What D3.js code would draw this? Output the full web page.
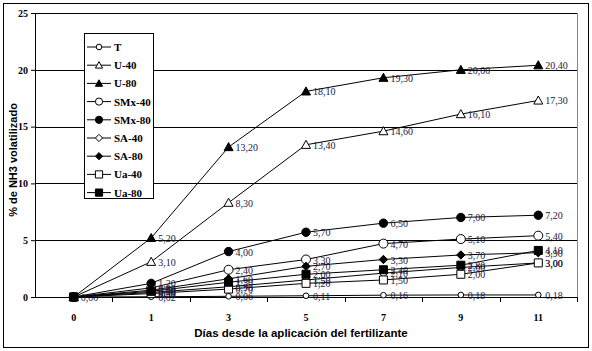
<!DOCTYPE html>
<html>
<head>
<meta charset="utf-8">
<script src="https://cdn.jsdelivr.net/npm/d3@7"></script>
<style>
  body { margin: 0; background: #fff; }
  svg { display: block; }
</style>
</head>
<body>
<div id="chart"></div>
<script>
// days after fertilizer application (categorical axis)
const days = ["0", "1", "3", "5", "7", "9", "11"];
const yTicks = [0, 5, 10, 15, 20, 25];

// % NH3 volatilized per treatment
const T      = [0, 0.02, 0.06, 0.11, 0.16, 0.18, 0.18];
const U40    = [0, 3.10, 8.30, 13.40, 14.60, 16.10, 17.30];
const U80    = [0, 5.20, 13.20, 18.10, 19.30, 20.00, 20.40];
const SMx40  = [0, 0.80, 2.40, 3.30, 4.70, 5.10, 5.40];
const SMx80  = [0, 1.20, 4.00, 5.70, 6.50, 7.00, 7.20];
const SA40   = [0, 0.40, 0.90, 1.50, 2.10, 2.60, 3.00];
const SA80   = [0, 0.60, 1.60, 2.70, 3.30, 3.70, 3.90];
const Ua40   = [0, 0.30, 0.70, 1.20, 1.50, 2.00, 3.00];
const Ua80   = [0, 0.50, 1.30, 2.00, 2.40, 2.80, 4.10];

const series = [
  {name: "T",      values: T,     shape: "circle",   size: 2.8, fill: false},
  {name: "U-40",   values: U40,   shape: "triangle", size: 4.5, fill: false},
  {name: "U-80",   values: U80,   shape: "triangle", size: 4.5, fill: true},
  {name: "SMx-40", values: SMx40, shape: "circle",   size: 4.5, fill: false},
  {name: "SMx-80", values: SMx80, shape: "circle",   size: 4.2, fill: true},
  {name: "SA-40",  values: SA40,  shape: "diamond",  size: 4.2, fill: false},
  {name: "SA-80",  values: SA80,  shape: "diamond",  size: 4.2, fill: true},
  {name: "Ua-40",  values: Ua40,  shape: "square",   size: 4.0, fill: false},
  {name: "Ua-80",  values: Ua80,  shape: "square",   size: 4.0, fill: true}
];

const W = 592, H = 351;
const margin = {top: 13, right: 15, bottom: 54, left: 35};
const width = W - margin.left - margin.right;
const height = H - margin.top - margin.bottom;

const svg = d3.select("#chart").append("svg")
  .attr("width", W).attr("height", H);

// outer frame
svg.append("rect")
  .attr("x", 3.5).attr("y", 3.5)
  .attr("width", W - 7).attr("height", H - 7)
  .attr("fill", "none").attr("stroke", "#000").attr("stroke-width", 1);

const g = svg.append("g")
  .attr("transform", `translate(${margin.left},${margin.top})`);

const x = d3.scaleBand().domain(days).range([0, width]).padding(0);
const y = d3.scaleLinear().domain([0, 25]).range([height, 0]);
const cx = d => x(d) + x.bandwidth() / 2;

// plot border (right side gray)
g.append("line")
  .attr("x1", width + 0.5).attr("x2", width + 0.5)
  .attr("y1", y(25)).attr("y2", y(0))
  .attr("stroke", "#888");

// horizontal grid
g.selectAll(".grid").data(yTicks.filter(d => d > 0)).enter()
  .append("line")
  .attr("x1", 0).attr("x2", width)
  .attr("y1", d => Math.round(y(d)) + 0.5).attr("y2", d => Math.round(y(d)) + 0.5)
  .attr("stroke", "#000").attr("stroke-width", 1);

// y axis
const yAxis = d3.axisLeft(y).tickValues(yTicks).tickSize(4).tickPadding(3);
g.append("g").attr("class", "y-axis").call(yAxis)
  .call(a => a.select(".domain").attr("stroke", "#000"))
  .selectAll("text")
  .attr("font-family", "Liberation Serif, Times New Roman, serif")
  .attr("font-size", 10).attr("font-weight", "bold").attr("fill", "#000");

// x axis baseline
const xAxisG = g.append("g").attr("class", "x-axis")
  .attr("transform", `translate(0,${height})`);
xAxisG.append("line")
  .attr("x1", 0).attr("x2", width).attr("y1", 0.5).attr("y2", 0.5)
  .attr("stroke", "#000");
// tick marks at category boundaries
xAxisG.selectAll(".tk").data(days).enter().append("line")
  .attr("x1", d => Math.round(x(d) + x.bandwidth()) + 0.5)
  .attr("x2", d => Math.round(x(d) + x.bandwidth()) + 0.5)
  .attr("y1", 0).attr("y2", 5)
  .attr("stroke", "#000");
xAxisG.selectAll(".lbl").data(days).enter().append("text")
  .attr("x", d => cx(d)).attr("y", 24)
  .attr("text-anchor", "middle")
  .attr("font-family", "Liberation Serif, Times New Roman, serif")
  .attr("font-size", 10).attr("font-weight", "bold")
  .text(d => d);

// axis titles
svg.append("text")
  .attr("x", margin.left + width / 2 - 5).attr("y", 337)
  .attr("text-anchor", "middle")
  .attr("font-family", "Liberation Sans, Arial, sans-serif")
  .attr("font-size", 11.5).attr("font-weight", "bold")
  .text("Días desde la aplicación del fertilizante");

svg.append("text")
  .attr("transform", `translate(17,${margin.top + height / 2 + 5}) rotate(-90)`)
  .attr("text-anchor", "middle")
  .attr("font-family", "Liberation Sans, Arial, sans-serif")
  .attr("font-size", 11).attr("font-weight", "bold")
  .text("% de NH3 volatilizado");

// symbol drawing helper
function drawMarker(sel, s) {
  const r = s.size;
  let path;
  if (s.shape === "circle") {
    sel.append("circle").attr("r", r)
      .attr("fill", s.fill ? "#000" : "#fff").attr("stroke", "#000").attr("stroke-width", 1);
    return;
  }
  if (s.shape === "triangle") path = `M0,${-r}L${r},${r * 0.8}L${-r},${r * 0.8}Z`;
  if (s.shape === "diamond") path = `M0,${-r}L${r},0L0,${r}L${-r},0Z`;
  if (s.shape === "square") path = `M${-r},${-r}H${r}V${r}H${-r}Z`;
  sel.append("path").attr("d", path)
    .attr("fill", s.fill ? "#000" : "#fff").attr("stroke", "#000").attr("stroke-width", 1);
}

const line = d3.line()
  .x((d, i) => cx(days[i]))
  .y(d => y(d));

// lines
series.forEach(s => {
  g.append("path").datum(s.values)
    .attr("d", line)
    .attr("fill", "none").attr("stroke", "#000").attr("stroke-width", 1);
});

// markers and labels
series.forEach(s => {
  const pts = g.append("g").selectAll("g").data(s.values).enter().append("g")
    .attr("transform", (d, i) => `translate(${cx(days[i])},${y(d)})`);
  pts.each(function () { drawMarker(d3.select(this), s); });
  pts.filter((d, i) => i > 0).append("text")
    .attr("x", 7).attr("y", 4)
    .attr("font-family", "Liberation Serif, Times New Roman, serif")
    .attr("font-size", 10).attr("fill", "#1a1a3a")
    .text(d => d.toFixed(2).replace(".", ","));
});

// "0,00" label at origin
g.append("text")
  .attr("x", cx(days[0]) + 7).attr("y", y(0) + 4)
  .attr("font-family", "Liberation Serif, Times New Roman, serif")
  .attr("font-size", 10).attr("fill", "#1a1a3a")
  .text("0,00");

// legend
const legend = svg.append("g").attr("transform", "translate(84,33)");
legend.append("rect")
  .attr("x", 0.5).attr("y", 0.5).attr("width", 69).attr("height", 165)
  .attr("fill", "#fff").attr("stroke", "#000");
const rows = legend.selectAll(".row").data(series).enter().append("g")
  .attr("transform", (d, i) => `translate(0,${14 + i * 18.2})`);
rows.append("line")
  .attr("x1", 3).attr("x2", 27).attr("y1", 0).attr("y2", 0)
  .attr("stroke", "#000");
rows.append("g").attr("transform", "translate(15,0)")
  .each(function (s) { drawMarker(d3.select(this), Object.assign({}, s, {size: Math.min(s.size, 3.6)})); });
rows.append("text")
  .attr("x", 30).attr("y", 4)
  .attr("font-family", "Liberation Serif, Times New Roman, serif")
  .attr("font-size", 11).attr("font-weight", "bold")
  .text(d => d.name);
</script>
</body>
</html>
